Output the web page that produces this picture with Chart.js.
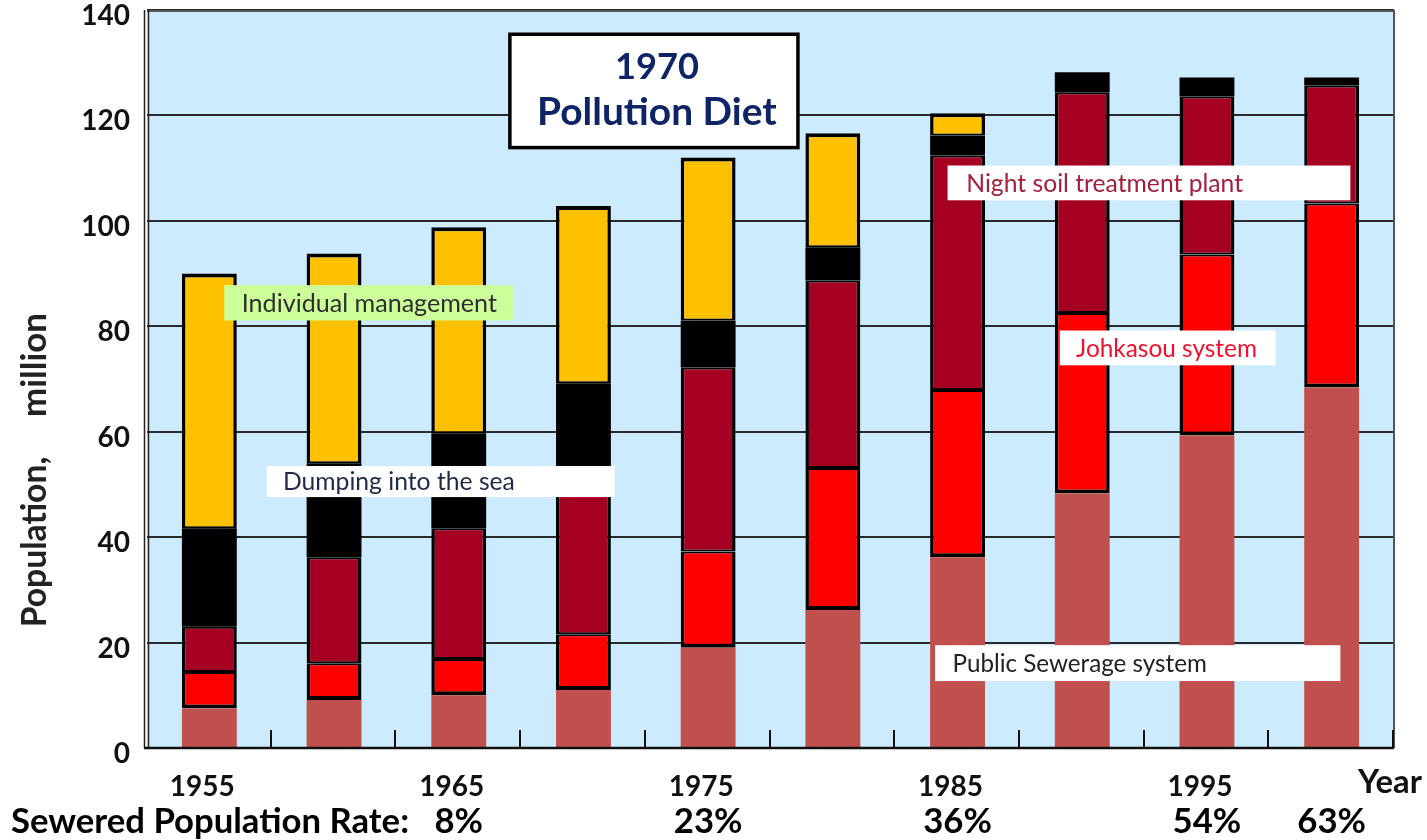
<!DOCTYPE html>
<html>
<head>
<meta charset="utf-8">
<title>Population by sewage treatment type, Japan</title>
<script src="https://cdn.jsdelivr.net/npm/chart.js@4.4.1/dist/chart.umd.min.js"></script>
<style>
  html, body { margin: 0; padding: 0; background: #fff; }
  #wrap { width: 1427px; height: 840px; }
</style>
</head>
<body>
<div id="wrap"><canvas id="chart" width="1427" height="840"></canvas></div>
<script>
// data (million people)
const years = ['1955', '1960', '1965', '1970', '1975', '1980', '1985', '1990', '1995', '2000'];
const yearLabels = ['1955', '', '1965', '', '1975', '', '1985', '', '1995', ''];
const rateLabels = ['', '', '8%', '', '23%', '', '36%', '', '54%', '63%'];

const sewerage   = [7.5, 9.1, 10.0, 11.0, 19.0, 26.2, 36.2, 48.3, 59.3, 68.4];
const johkasou   = [6.9, 7.0, 6.9, 10.6, 18.3, 26.9, 31.7, 34.2, 34.3, 34.9];
const nightSoil  = [8.6, 20.1, 24.8, 29.4, 34.9, 35.6, 44.5, 41.9, 30.0, 22.4];
const dumping    = [18.7, 17.8, 18.0, 18.2, 8.9, 6.3, 3.8, 3.8, 3.6, 1.5];
const individual = [48.3, 39.8, 39.1, 33.6, 30.9, 21.6, 4.2, 0, 0, 0];

const yMax = 140;
const yStep = 20;

const FONT = 'Lato, "Open Sans", sans-serif';
const stacks = [sewerage, johkasou, nightSoil, dumping, individual];

// label boxes, placed in category / value units
const notes = [
  { text: 'Individual management', x0: 0.12, x1: 2.44, top: 87.8, bottom: 81.1, tx: 0.26, w: 255, fill: '#CCFF99', color: '#2E2E2E' },
  { text: 'Dumping into the sea', x0: 0.46, x1: 3.25, top: 53.5, bottom: 47.6, tx: 0.59, w: 232, fill: '#FFFFFF', color: '#1F2A48' },
  { text: 'Night soil treatment plant', x0: 5.92, x1: 9.15, top: 110.5, bottom: 103.9, tx: 6.07, w: 277, fill: '#FFFFFF', color: '#A3203C' },
  { text: 'Johkasou system', x0: 6.82, x1: 8.55, top: 79.2, bottom: 72.6, tx: 6.95, w: 181, fill: '#FFFFFF', color: '#F2102E' },
  { text: 'Public Sewerage system', x0: 5.82, x1: 9.07, top: 19.5, bottom: 12.7, tx: 5.96, w: 254, fill: '#FFFFFF', color: '#222222' }
];

function fitFont(ctx, text, weight, target) {
  ctx.font = weight + ' 20px ' + FONT;
  const size = 20 * target / ctx.measureText(text).width;
  return weight + ' ' + size.toFixed(1) + 'px ' + FONT;
}

// one border between touching segments, a heavier one on the outside
function edges(c) {
  const d = c.datasetIndex, i = c.dataIndex;
  const above = stacks.slice(d + 1).some(s => s[i] > 0);
  return { left: 3.5, right: 3.5, top: above ? 2 : 4, bottom: d === 1 ? 4 : 2 };
}

const decor = {
  id: 'decor',
  beforeDraw(chart) {
    const { ctx, chartArea: a } = chart;
    ctx.save();
    ctx.fillStyle = '#CCEBFE';
    ctx.fillRect(a.left, a.top, a.right - a.left, a.bottom - a.top);
    ctx.restore();
  },
  afterDatasetsDraw(chart) {
    const { ctx, chartArea: a } = chart;
    const xs = chart.scales.x;
    const ys = chart.scales.y;
    ctx.save();

    // frame
    ctx.strokeStyle = '#555';
    ctx.lineWidth = 2;
    ctx.beginPath();
    ctx.moveTo(a.left, a.top + 1);
    ctx.lineTo(a.right, a.top + 1);
    ctx.lineTo(a.right, a.bottom);
    ctx.stroke();
    ctx.strokeStyle = '#222';
    ctx.lineWidth = 1.5;
    ctx.beginPath();
    ctx.moveTo(a.left - 2.5, a.top);
    ctx.lineTo(a.left - 2.5, a.bottom);
    ctx.moveTo(a.left + 1.5, a.top);
    ctx.lineTo(a.left + 1.5, a.bottom);
    ctx.stroke();
    ctx.strokeStyle = '#111';
    ctx.lineWidth = 2.5;
    ctx.beginPath();
    ctx.moveTo(a.left - 3, a.bottom);
    ctx.lineTo(a.right, a.bottom);
    ctx.stroke();

    // short ticks between categories
    ctx.lineWidth = 2;
    ctx.beginPath();
    for (let i = 1; i <= years.length; i++) {
      const x = Math.round(xs.getPixelForValue(i - 0.5)) - 1;
      ctx.moveTo(x, a.bottom - 18);
      ctx.lineTo(x, a.bottom);
    }
    ctx.stroke();

    // label boxes
    notes.forEach(n => {
      const x0 = xs.getPixelForValue(n.x0), x1 = xs.getPixelForValue(n.x1);
      const y0 = ys.getPixelForValue(n.top), y1 = ys.getPixelForValue(n.bottom);
      ctx.fillStyle = n.fill;
      ctx.fillRect(x0, y0, x1 - x0, y1 - y0);
      ctx.fillStyle = n.color;
      ctx.font = fitFont(ctx, n.text, 'normal', n.w);
      ctx.textAlign = 'left';
      ctx.textBaseline = 'middle';
      ctx.fillText(n.text, xs.getPixelForValue(n.tx), (y0 + y1) / 2 + 1);
    });

    // 1970 Pollution Diet box
    {
      const x0 = xs.getPixelForValue(2.41), x1 = xs.getPixelForValue(4.72);
      const y0 = ys.getPixelForValue(135.4), y1 = ys.getPixelForValue(113.9);
      ctx.fillStyle = '#fff';
      ctx.fillRect(x0, y0, x1 - x0, y1 - y0);
      ctx.strokeStyle = '#000';
      ctx.lineWidth = 3.5;
      ctx.strokeRect(x0, y0, x1 - x0, y1 - y0);
      ctx.fillStyle = '#0F2466';
      ctx.textAlign = 'center';
      ctx.textBaseline = 'middle';
      const cx = (x0 + x1) / 2 + 3;
      ctx.font = fitFont(ctx, '1970', 'bold', 84);
      ctx.fillText('1970', cx, y0 + (y1 - y0) * 0.29);
      ctx.font = fitFont(ctx, 'Pollution Diet', 'bold', 240);
      ctx.fillText('Pollution Diet', cx, y0 + (y1 - y0) * 0.69);
    }

    // y title
    ctx.fillStyle = '#222';
    ctx.textAlign = 'center';
    ctx.textBaseline = 'middle';
    ctx.save();
    ctx.translate(35, 365);
    ctx.rotate(-Math.PI / 2);
    ctx.font = fitFont(ctx, 'million', 'bold', 104);
    ctx.fillText('million', 0, 0);
    ctx.restore();
    ctx.save();
    ctx.translate(35, 542);
    ctx.rotate(-Math.PI / 2);
    ctx.font = fitFont(ctx, 'Population,', 'bold', 171);
    ctx.fillText('Population,', 0, 0);
    ctx.restore();

    // Year
    ctx.fillStyle = '#111';
    ctx.font = fitFont(ctx, 'Year', 'bold', 64);
    ctx.textAlign = 'center';
    ctx.textBaseline = 'alphabetic';
    ctx.fillText('Year', a.right - 4, 793);

    // sewered rate row
    ctx.fillStyle = '#000';
    ctx.textAlign = 'left';
    ctx.font = fitFont(ctx, 'Sewered Population Rate:', 'bold', 398);
    ctx.fillText('Sewered Population Rate:', 11, 833);
    ctx.textAlign = 'center';
    rateLabels.forEach((t, i) => {
      if (t) ctx.fillText(t, xs.getPixelForValue(i), 833);
    });

    ctx.restore();
  }
};

const boxed = { borderColor: '#000', borderWidth: edges, borderSkipped: false, inflateAmount: 0 };

new Chart(document.getElementById('chart'), {
  type: 'bar',
  data: {
    labels: years,
    datasets: [
      { label: 'Public Sewerage system', data: sewerage, backgroundColor: '#C0504D', borderWidth: 0 },
      Object.assign({ label: 'Johkasou system', data: johkasou, backgroundColor: '#FF0000' }, boxed),
      Object.assign({ label: 'Night soil treatment plant', data: nightSoil, backgroundColor: '#A50021' }, boxed),
      { label: 'Dumping into the sea', data: dumping, backgroundColor: '#000000', borderWidth: 0 },
      Object.assign({ label: 'Individual management', data: individual, backgroundColor: '#FFC000' }, boxed)
    ]
  },
  options: {
    responsive: false,
    animation: false,
    layout: { padding: { top: 10, right: 33, left: 0, bottom: 0 } },
    datasets: { bar: { barPercentage: 0.44, categoryPercentage: 1 } },
    plugins: { legend: { display: false }, tooltip: { enabled: false } },
    scales: {
      x: {
        stacked: true,
        grid: { display: false },
        border: { display: false },
        ticks: {
          autoSkip: false,
          maxRotation: 0,
          padding: 14,
          labelOffset: -7,
          color: '#111',
          font: { family: FONT, size: 28, weight: 'bold' },
          callback: (v, i) => yearLabels[i]
        },
        afterFit: s => { s.height = 92; s.paddingLeft = 0; s.paddingRight = 0; }
      },
      y: {
        stacked: true,
        min: 0,
        max: yMax,
        ticks: {
          stepSize: yStep,
          padding: 17,
          labelOffset: 6,
          color: '#111',
          font: { family: FONT, size: 28, weight: 'bold' }
        },
        grid: { color: '#2A2A2A', lineWidth: 2, drawTicks: false },
        border: { display: false },
        afterFit: s => { s.width = 147; s.paddingTop = 0; s.paddingBottom = 0; }
      }
    }
  },
  plugins: [decor]
});
</script>
</body>
</html>
